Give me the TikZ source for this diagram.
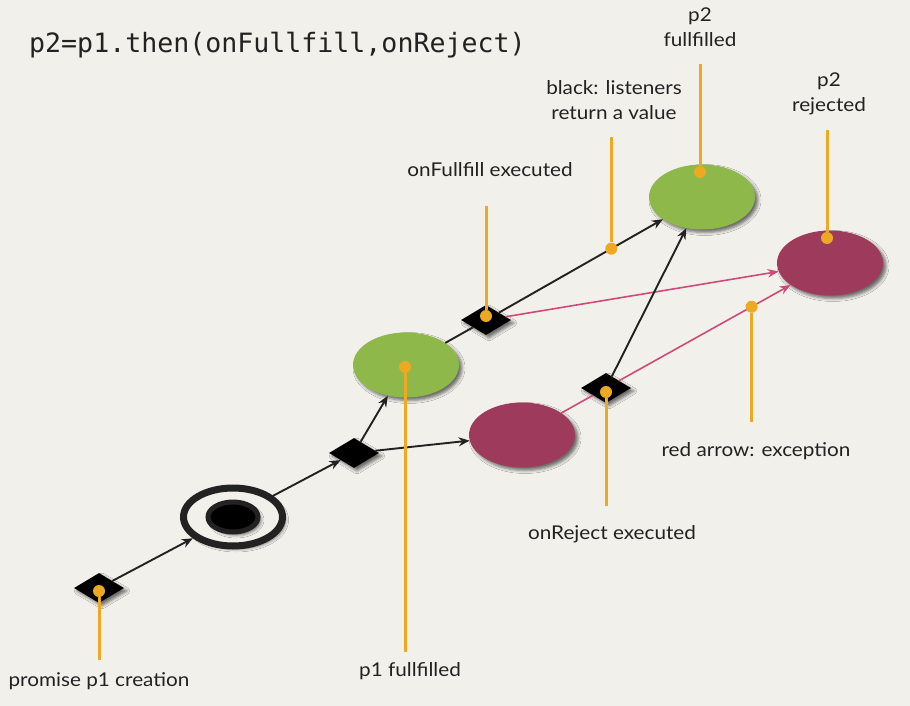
\documentclass[tikz,border=0pt]{standalone}
\usepackage{fontspec}
\setmainfont{Lato}[FakeStretch=1.09]
\setmonofont{DejaVu Sans Mono}
\usepackage{xcolor}
\usepackage{tikz}
\usetikzlibrary{arrows.meta,shapes.geometric,shadows.blur,calc,positioning}
\definecolor{paper}{HTML}{F1F0EB}
\definecolor{okgreen}{HTML}{8FB84A}
\definecolor{failred}{HTML}{9E3A5C}
\definecolor{tagorange}{HTML}{EDA922}
\definecolor{failpink}{HTML}{D0497A}
\definecolor{ink}{HTML}{222222}

\begin{document}
\begin{tikzpicture}
    [
      x = 1pt, y = -1pt,
      shade/.style = {blur shadow={shadow xshift=3pt, shadow yshift=-3pt, shadow blur radius=3pt, shadow opacity=55}},
      state/.style = {ellipse, minimum width=106pt, minimum height=65pt, inner sep=0pt, shade},
      ok/.style = {state, fill=okgreen},
      fail/.style = {state, fill=failred},
      event/.style = {diamond, fill=black, minimum width=50pt, minimum height=30pt, inner sep=0pt, shade},
      pending/.style = {ellipse, draw=ink, fill=paper, line width=7pt, minimum width=99pt, minimum height=58pt, inner sep=0pt, shade},
      core/.style = {ellipse, draw=ink, fill=black, line width=5pt, minimum width=50pt, minimum height=30pt, inner sep=0pt, shade},
      flow/.style = {draw=ink, line width=1.9pt, -{Stealth[length=11pt,width=9pt]}},
      plain/.style = {draw=ink, line width=1.9pt},
      flowko/.style = {draw=failpink, line width=1.6pt, -{Stealth[length=11pt,width=8.5pt]}},
      plainko/.style = {draw=failpink, line width=1.6pt},
      dot/.style = {circle, fill=tagorange, minimum size=12pt, inner sep=0pt},
      callout/.style = {draw=tagorange, line width=3pt},
      note/.style = {text=ink, font=\fontsize{19}{25}\selectfont, align=center, inner xsep=0pt},
    ]

    \fill[paper] (0,0) rectangle (910,706);
    \useasboundingbox (0,0) rectangle (910,706);

    \node[anchor=base west, inner sep=0pt, text=ink, font=\ttfamily\fontsize{26.6}{30}\selectfont] (title) at (29,53) {p2=p1.then(onFullfill,onReject)};

    % states and events
    \node[event] (create) at (99,588) {};
    \node[pending] (wait) at (233,517) {};
    \node[core] (waitcore) at (wait) {};
    \node[event] (settle) at (354,453) {};
    \node[ok] (p1ok) at (406,365) {};
    \node[fail] (p1ko) at (522,435) {};
    \node[event] (runok) at (486,320) {};
    \node[event] (runko) at (606,388) {};
    \node[ok] (p2ok) at (702,197) {};
    \node[fail] (p2ko) at (830,263) {};

    % transitions
    \draw[flow] (create) -- (wait);
    \draw[flow] (wait) -- (settle);
    \draw[flow] (settle) -- (p1ok);
    \draw[flow] (settle) -- (p1ko);
    \draw[plain] (p1ok) -- (runok);
    \draw[flow] (runok) -- (p2ok);
    \draw[flowko] (runok) -- (p2ko);
    \draw[plainko] (p1ko) -- (runko);
    \draw[flow] (runko) -- (p2ok);
    \draw[flowko] (runko) -- (p2ko);

    % orange tags
    \node[dot] (kcreate) at ($(create)+(0,3)$) {};
    \node[dot] (kp1) at ($(p1ok)+(-1,2)$) {};
    \node[dot] (krunok) at ($(runok)+(0,-4)$) {};
    \node[dot] (krunko) at ($(runko)+(0,4)$) {};
    \node[dot] (kvalue) at ($(runok)!0.58!(p2ok)$) {};
    \node[dot] (kfail) at ($(runko)!0.65!(p2ko)$) {};
    \node[dot] (kp2ok) at ($(p2ok)+(-2,-25)$) {};
    \node[dot] (kp2ko) at ($(p2ko)+(-3,-25)$) {};

    \node[note, anchor=north, inner ysep=12pt] (ncreate) at (99,660) {promise p1 creation};
    \node[note, anchor=north, inner ysep=10pt] (np1) at (410,652) {p1 fullfilled};
    \node[note, anchor=south, inner ysep=29pt] (nrunok) at (490,206) {onFullfill executed};
    \node[note, anchor=north, inner ysep=19pt] (nrunko) at (612,506) {onReject executed};
    \node[note, anchor=north, inner ysep=20pt] (nfail) at (756,422) {red arrow: exception};
    \node[note, anchor=south, inner ysep=17pt] (nvalue) at (614,137) {black: listeners\\return a value};
    \node[note, anchor=south, inner ysep=17pt] (np2ok) at (700,64) {p2\\fullfilled};
    \node[note, anchor=south, inner ysep=15pt] (np2ko) at (829,130) {p2\\rejected};

    \draw[callout] (kcreate) -- (kcreate |- ncreate.north);
    \draw[callout] (kp1) -- (kp1 |- np1.north);
    \draw[callout] (krunok) -- (krunok |- nrunok.south);
    \draw[callout] (krunko) -- (krunko |- nrunko.north);
    \draw[callout] (kfail) -- (kfail |- nfail.north);
    \draw[callout] (kvalue) -- (kvalue |- nvalue.south);
    \draw[callout] (kp2ok) -- (kp2ok |- np2ok.south);
    \draw[callout] (kp2ko) -- (kp2ko |- np2ko.south);
\end{tikzpicture}
\end{document}
